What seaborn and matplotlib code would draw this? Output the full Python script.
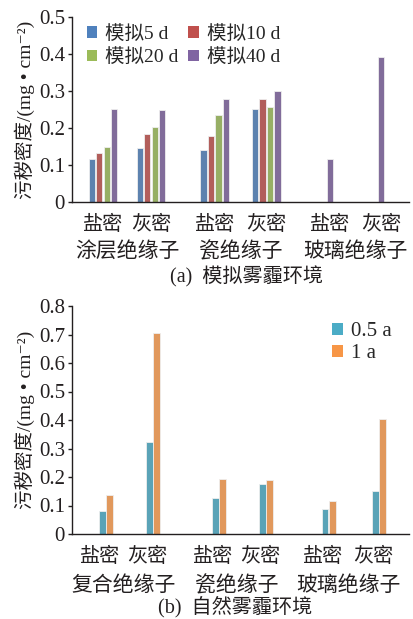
import numpy as np
import pandas as pd
import matplotlib
matplotlib.use("Agg")
import matplotlib.pyplot as plt
import matplotlib.patches as mpatches
from matplotlib.ticker import FuncFormatter
import seaborn as sns

# ── Data ──────────────────────────────────────────────────────────────────────
kinds    = ["盐密", "灰密"]
groups_a = ["涂层绝缘子", "瓷绝缘子", "玻璃绝缘子"]
groups_b = ["复合绝缘子", "瓷绝缘子", "玻璃绝缘子"]

series_a = ["模拟5 d", "模拟10 d", "模拟20 d", "模拟40 d"]
sim_5d   = [0.115, 0.147, 0.140, 0.252, np.nan, np.nan]
sim_10d  = [0.133, 0.185, 0.179, 0.279, np.nan, np.nan]
sim_20d  = [0.150, 0.203, 0.234, 0.258, np.nan, np.nan]
sim_40d  = [0.252, 0.248, 0.279, 0.300, 0.115, 0.393]

series_b = ["0.5 a", "1 a"]
nat_05a  = [0.081, 0.322, 0.125, 0.175, 0.088, 0.151]
nat_1a   = [0.137, 0.705, 0.192, 0.188, 0.116, 0.402]

# ── Layout / style ────────────────────────────────────────────────────────────
SLOT_A = [0, 1, 2.33, 3.40, 4.50, 5.56]   # category slots, gaps between insulator groups
SLOT_B = [0, 1, 2.40, 3.40, 4.74, 5.81]
COLORS_A = ["#4f81bd", "#c0504d", "#9bbb59", "#8064a2"]
COLORS_B = ["#4bacc6", "#f79646"]
INK = "#231f20"
FONT = ["Liberation Serif", "Noto Sans CJK SC", "DejaVu Sans"]
YLABEL = "污秽密度/(mg • cm⁻²)"

sns.set_theme(style="ticks")
plt.rcParams["font.family"] = FONT
plt.rcParams["axes.unicode_minus"] = True


def _long(values, names, slots):
    rows = []
    for name, vals in zip(names, values):
        for s, v in zip(slots, vals):
            if not np.isnan(v):
                rows.append({"x": s, "value": v, "series": name})
    return pd.DataFrame(rows)


def _style(ax, ymax, xlim):
    ax.set_ylim(0, ymax)
    ax.set_xlim(*xlim)
    for side in ("top", "right"):
        ax.spines[side].set_visible(False)
    for side in ("left", "bottom"):
        ax.spines[side].set_color(INK)
        ax.spines[side].set_linewidth(1.0)
    ax.tick_params(axis="y", direction="out", length=3, width=1, color=INK,
                   labelsize=15, labelcolor=INK, pad=2)
    ax.tick_params(axis="x", length=0, labelsize=14.5, labelcolor=INK, pad=10)
    ax.yaxis.set_major_formatter(FuncFormatter(lambda v, _: "0" if v == 0 else f"{v:.1f}"))
    ax.set_xlabel("")
    ax.set_ylabel(YLABEL, fontsize=14, color=INK)
    ax.yaxis.set_label_coords(-0.11, 0.5)


fig = plt.figure(figsize=(4.13, 6.19), dpi=100)
ax1 = fig.add_axes([72 / 413, 1 - 202 / 619, 337 / 413, 185 / 619])
ax2 = fig.add_axes([72 / 413, 1 - 534 / 619, 337 / 413, 228 / 619])

# ── (a) simulated haze ────────────────────────────────────────────────────────
df_a = _long([sim_5d, sim_10d, sim_20d, sim_40d], series_a, SLOT_A)
sns.barplot(data=df_a, x="x", y="value", hue="series", hue_order=series_a,
            palette=COLORS_A, native_scale=True, width=0.625, gap=0.14,
            edgecolor="#eeeeee", linewidth=0.6, errorbar=None, legend=False, ax=ax1)
_style(ax1, 0.5, (-0.646, 6.375))
ax1.set_yticks(np.arange(0, 0.51, 0.1))
# glass group only has the 40 d bar, label sits under it
ticks_a = SLOT_A[:4] + [s + 0.234 for s in SLOT_A[4:]]
ax1.set_xticks(ticks_a, kinds * 3, family=FONT)
for i, g in enumerate(groups_a):
    ax1.text((ticks_a[2 * i] + ticks_a[2 * i + 1]) / 2, -0.272, g,
             transform=ax1.get_xaxis_transform(), ha="center", va="center",
             fontsize=15, color=INK)
h_a = [mpatches.Patch(facecolor=c, edgecolor="none", label=n) for c, n in zip(COLORS_A, series_a)]
ax1.legend(handles=[h_a[0], h_a[2], h_a[1], h_a[3]], ncol=2, loc="upper left",
           bbox_to_anchor=(0.02, 1.0), frameon=False, fontsize=14,
           handlelength=0.55, handleheight=0.55, handletextpad=0.4,
           columnspacing=0.5, labelspacing=0.3, borderaxespad=0)
fig.text(246 / 413, 1 - 277 / 619, "(a)  模拟雾霾环境", ha="center", va="center",
         fontsize=14.5, color=INK)

# ── (b) natural haze ──────────────────────────────────────────────────────────
df_b = _long([nat_05a, nat_1a], series_b, SLOT_B)
sns.barplot(data=df_b, x="x", y="value", hue="series", hue_order=series_b,
            palette=COLORS_B, native_scale=True, width=0.30, gap=0.08,
            edgecolor="#eeeeee", linewidth=0.6, errorbar=None, legend=False, ax=ax2)
_style(ax2, 0.8, (-0.723, 6.447))
ax2.set_yticks(np.arange(0, 0.81, 0.1))
ticks_b = [s - 0.12 for s in SLOT_B]
ax2.set_xticks(ticks_b, kinds * 3, family=FONT)
for i, g in enumerate(groups_b):
    ax2.text((ticks_b[2 * i] + ticks_b[2 * i + 1]) / 2, -0.228, g,
             transform=ax2.get_xaxis_transform(), ha="center", va="center",
             fontsize=15, color=INK)
h_b = [mpatches.Patch(facecolor=c, edgecolor="none", label=n) for c, n in zip(COLORS_B, series_b)]
ax2.legend(handles=h_b, loc="upper right", bbox_to_anchor=(0.975, 0.965),
           frameon=False, fontsize=15, handlelength=0.55, handleheight=0.55,
           handletextpad=0.4, labelspacing=0.15, borderaxespad=0)
fig.text(235 / 413, 1 - 607 / 619, "(b)  自然雾霾环境", ha="center", va="center",
         fontsize=14.5, color=INK)

fig.savefig("out.png", dpi=100, facecolor="white")
